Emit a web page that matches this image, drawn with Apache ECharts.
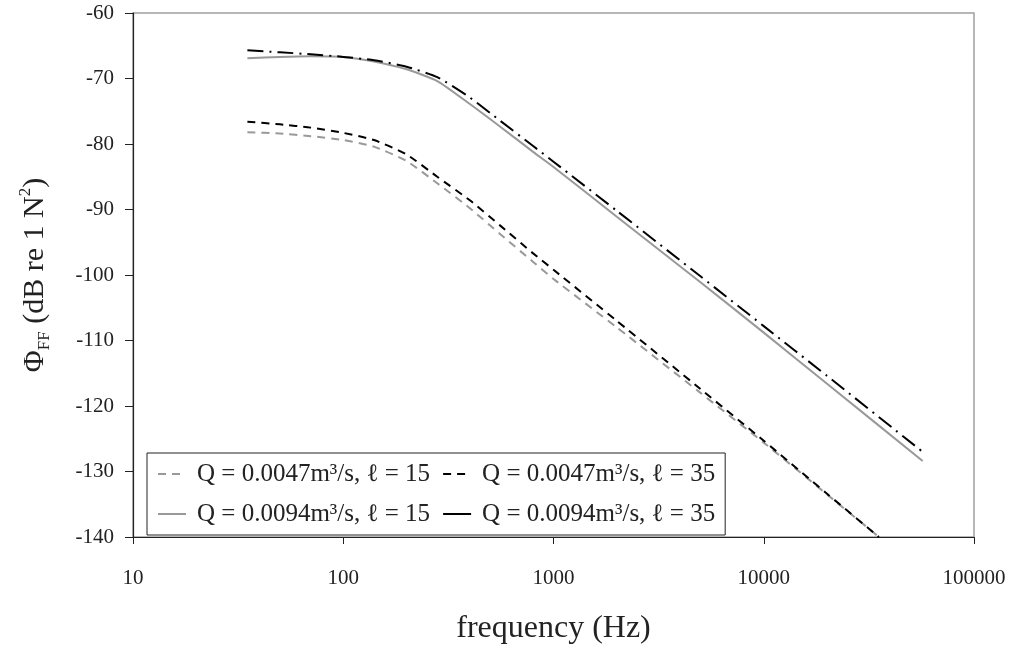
<!DOCTYPE html>
<html>
<head>
<meta charset="utf-8">
<script src="https://cdn.jsdelivr.net/npm/echarts@6/dist/echarts.min.js"></script>
<style>
  html, body { margin: 0; padding: 0; background: #fff; }
  #chart { width: 1016px; height: 664px; }
</style>
</head>
<body>
<div id="chart"></div>
<script>
// ---- data ----
const seriesNames = [
  'Q = 0.0047m³/s, ℓ = 15',
  'Q = 0.0047m³/s, ℓ = 35',
  'Q = 0.0094m³/s, ℓ = 15',
  'Q = 0.0094m³/s, ℓ = 35'
];
const freqLow = [35, 50, 70, 100, 140, 200, 280, 400, 560, 800, 1000, 2000, 5000, 10000, 20000, 35300];
const freqHigh = [35, 50, 70, 100, 140, 200, 280, 400, 560, 800, 1000, 2000, 5000, 10000, 20000, 57000];
const q0047l15 = [-78.2, -78.4, -78.8, -79.4, -80.4, -82.6, -86.0, -89.8, -93.8, -98.0, -100.6, -108.0, -118.0, -125.6, -133.5, -140.0];
const q0047l35 = [-76.6, -77.0, -77.5, -78.3, -79.4, -81.6, -85.0, -88.6, -92.5, -96.7, -99.2, -107.0, -117.4, -125.3, -133.4, -140.0];
const q0094l15 = [-66.9, -66.7, -66.6, -66.7, -67.4, -68.6, -70.4, -73.9, -77.4, -81.2, -83.5, -91.1, -101.1, -108.8, -116.6, -128.4];
const q0094l35 = [-65.7, -66.0, -66.3, -66.7, -67.2, -68.2, -69.8, -72.9, -76.5, -80.3, -82.7, -90.2, -100.2, -107.8, -115.4, -127.0];
const xTickLabels = ['10', '100', '1000', '10000', '100000'];
const yMin = -140, yMax = -60, yStep = 10;

const pairs = (xs, ys) => xs.map((x, i) => [x, ys[i]]);
const FONT = '"Liberation Serif", "DejaVu Serif", serif';

const chart = echarts.init(document.getElementById('chart'), null, { renderer: 'canvas' });
const option = {
  animation: false,
  backgroundColor: '#fff',
  textStyle: { fontFamily: FONT, color: '#222' },
  grid: {
    left: 133, right: 42, top: 13, bottom: 127,
    show: true, borderColor: '#a0a0a0', borderWidth: 1.5, backgroundColor: 'transparent'
  },
  legend: {
    left: 147, top: 453,
    orient: 'horizontal',
    width: 640,
    padding: [7, 10, 7, 10],
    borderColor: '#222', borderWidth: 1,
    itemWidth: 28, itemHeight: 14, itemGap: 12,
    itemStyle: { opacity: 0 },
    textStyle: { fontFamily: FONT, fontSize: 25, color: '#222', lineHeight: 28, padding: [0, 0, 0, 6] },
    data: [
      { name: seriesNames[0] },
      { name: seriesNames[1] },
      { name: seriesNames[2] },
      { name: seriesNames[3], lineStyle: { type: 'solid' } }
    ]
  },
  xAxis: {
    type: 'log', logBase: 10, min: 10, max: 100000,
    name: 'frequency (Hz)', nameLocation: 'middle', nameGap: 76,
    nameTextStyle: { fontFamily: FONT, fontSize: 32, color: '#222' },
    axisLine: { lineStyle: { color: '#222', width: 1.2 } },
    axisTick: { inside: false, length: 7, lineStyle: { color: '#222' } },
    minorTick: { show: false },
    splitLine: { show: false },
    axisLabel: {
      margin: 31, fontFamily: FONT, fontSize: 21, color: '#222',
      formatter: v => xTickLabels[Math.round(Math.log10(v)) - 1]
    }
  },
  yAxis: {
    type: 'value', min: yMin, max: yMax, interval: yStep,
    name: '{a|Φ}{s|FF}{a| (dB re 1 N}{p|2}{a|)}',
    nameLocation: 'middle', nameGap: 80,
    nameTextStyle: {
      fontFamily: FONT, fontSize: 30, color: '#222',
      rich: {
        a: { fontFamily: FONT, fontSize: 30, color: '#222', lineHeight: 36 },
        s: { fontFamily: FONT, fontSize: 17, color: '#222', lineHeight: 36, verticalAlign: 'bottom' },
        p: { fontFamily: FONT, fontSize: 17, color: '#222', lineHeight: 36, verticalAlign: 'top' }
      }
    },
    axisLine: { show: true, lineStyle: { color: '#222', width: 1.2 } },
    axisTick: { show: true, inside: false, length: 8, lineStyle: { color: '#222' } },
    splitLine: { show: false },
    axisLabel: { margin: 19, fontFamily: FONT, fontSize: 21, color: '#222' }
  },
  series: [
    {
      name: seriesNames[0], type: 'line', symbol: 'none', smooth: 0.2,
      data: pairs(freqLow, q0047l15),
      lineStyle: { color: '#999999', width: 2, type: [8, 6] },
      itemStyle: { color: '#999999' }
    },
    {
      name: seriesNames[1], type: 'line', symbol: 'none', smooth: 0.2,
      data: pairs(freqLow, q0047l35),
      lineStyle: { color: '#000000', width: 2, type: [8, 6] },
      itemStyle: { color: '#000000' }
    },
    {
      name: seriesNames[2], type: 'line', symbol: 'none', smooth: 0.2,
      data: pairs(freqHigh, q0094l15),
      lineStyle: { color: '#999999', width: 2, type: 'solid' },
      itemStyle: { color: '#999999' }
    },
    {
      name: seriesNames[3], type: 'line', symbol: 'none', smooth: 0.2,
      data: pairs(freqHigh, q0094l35),
      lineStyle: { color: '#000000', width: 2, type: [16, 6, 2, 6] },
      itemStyle: { color: '#000000' }
    }
  ]
};
chart.setOption(option);
</script>
</body>
</html>
